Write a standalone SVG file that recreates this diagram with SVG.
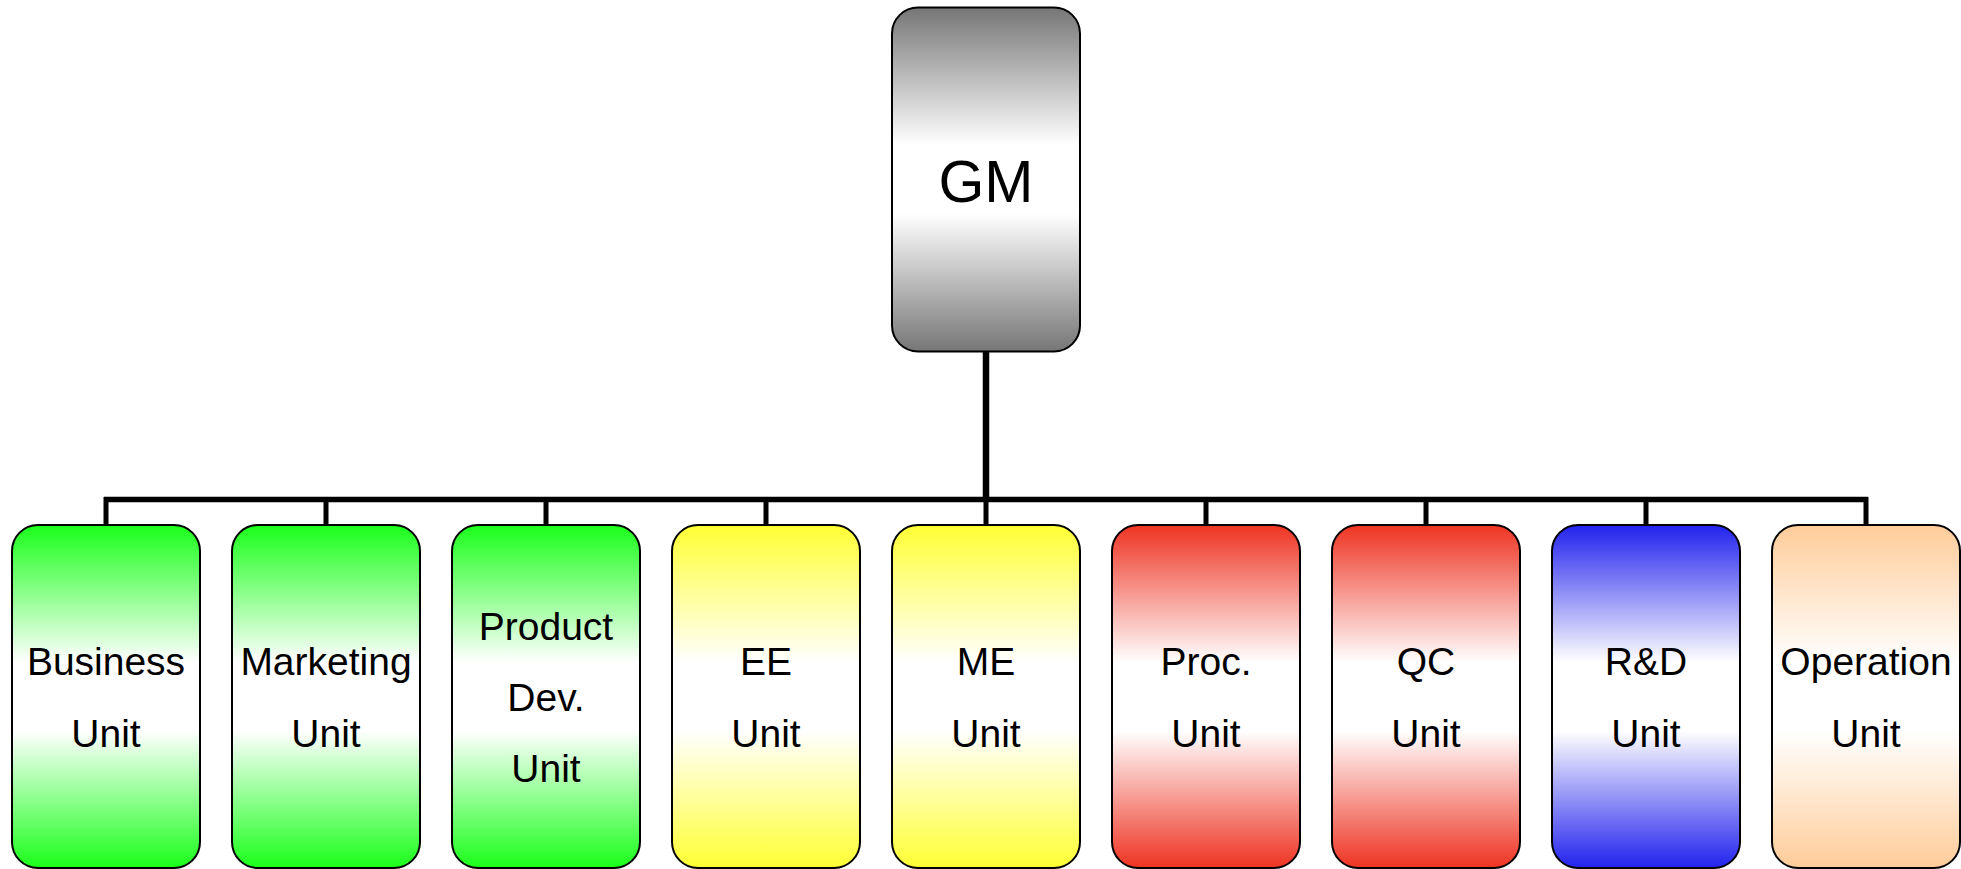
<svg xmlns="http://www.w3.org/2000/svg" width="1961" height="869" viewBox="0 0 1961 869">
<style>
.box{stroke:#000;stroke-width:2}
.lbl{font-family:"Liberation Sans",Arial,sans-serif;font-size:39px;fill:#000;text-anchor:middle}
.gm{font-family:"Liberation Sans",Arial,sans-serif;font-size:59px;fill:#000;text-anchor:middle}
.ln{stroke:#000;fill:none}
</style>
<defs>
<linearGradient id="gGray" x1="0" y1="0" x2="0" y2="1"><stop offset="0" stop-color="#767676"/><stop offset="0.4" stop-color="#fff"/><stop offset="0.6" stop-color="#fff"/><stop offset="1" stop-color="#767676"/></linearGradient>
<linearGradient id="gGreen" x1="0" y1="0" x2="0" y2="1"><stop offset="0" stop-color="#1aff1a"/><stop offset="0.4" stop-color="#fff"/><stop offset="0.6" stop-color="#fff"/><stop offset="1" stop-color="#1aff1a"/></linearGradient>
<linearGradient id="gYellow" x1="0" y1="0" x2="0" y2="1"><stop offset="0" stop-color="#ffff33"/><stop offset="0.4" stop-color="#fff"/><stop offset="0.6" stop-color="#fff"/><stop offset="1" stop-color="#ffff33"/></linearGradient>
<linearGradient id="gRed" x1="0" y1="0" x2="0" y2="1"><stop offset="0" stop-color="#ee3322"/><stop offset="0.4" stop-color="#fff"/><stop offset="0.6" stop-color="#fff"/><stop offset="1" stop-color="#ee3322"/></linearGradient>
<linearGradient id="gBlue" x1="0" y1="0" x2="0" y2="1"><stop offset="0" stop-color="#2222ee"/><stop offset="0.4" stop-color="#fff"/><stop offset="0.6" stop-color="#fff"/><stop offset="1" stop-color="#2222ee"/></linearGradient>
<linearGradient id="gOrange" x1="0" y1="0" x2="0" y2="1"><stop offset="0" stop-color="#ffcc99"/><stop offset="0.4" stop-color="#fff"/><stop offset="0.6" stop-color="#fff"/><stop offset="1" stop-color="#ffcc99"/></linearGradient>
</defs>
<g id="connectors">
<line class="ln" x1="986" y1="351" x2="986" y2="500" stroke-width="6.5"/>
<line class="ln" x1="104" y1="499.5" x2="1868" y2="499.5" stroke-width="5.5"/>
<line class="ln" x1="106" y1="497" x2="106" y2="525" stroke-width="5"/>
<line class="ln" x1="326" y1="497" x2="326" y2="525" stroke-width="5"/>
<line class="ln" x1="546" y1="497" x2="546" y2="525" stroke-width="5"/>
<line class="ln" x1="766" y1="497" x2="766" y2="525" stroke-width="5"/>
<line class="ln" x1="986" y1="497" x2="986" y2="525" stroke-width="5"/>
<line class="ln" x1="1206" y1="497" x2="1206" y2="525" stroke-width="5"/>
<line class="ln" x1="1426" y1="497" x2="1426" y2="525" stroke-width="5"/>
<line class="ln" x1="1646" y1="497" x2="1646" y2="525" stroke-width="5"/>
<line class="ln" x1="1866" y1="497" x2="1866" y2="525" stroke-width="5"/>
</g>
<g id="gm">
<rect class="box" x="892" y="7.5" width="188" height="344" rx="26" fill="url(#gGray)"/>
<text class="gm" x="986" y="202">GM</text>
</g>
<g id="business">
<rect class="box" x="12" y="525" width="188" height="343" rx="26" fill="url(#gGreen)"/>
<text class="lbl" x="106" y="675">Business</text><text class="lbl" x="106" y="747">Unit</text>
</g>
<g id="marketing">
<rect class="box" x="232" y="525" width="188" height="343" rx="26" fill="url(#gGreen)"/>
<text class="lbl" x="326" y="675">Marketing</text><text class="lbl" x="326" y="747">Unit</text>
</g>
<g id="productdev">
<rect class="box" x="452" y="525" width="188" height="343" rx="26" fill="url(#gGreen)"/>
<text class="lbl" x="546" y="640">Product</text><text class="lbl" x="546" y="711">Dev.</text><text class="lbl" x="546" y="782">Unit</text>
</g>
<g id="ee">
<rect class="box" x="672" y="525" width="188" height="343" rx="26" fill="url(#gYellow)"/>
<text class="lbl" x="766" y="675">EE</text><text class="lbl" x="766" y="747">Unit</text>
</g>
<g id="me">
<rect class="box" x="892" y="525" width="188" height="343" rx="26" fill="url(#gYellow)"/>
<text class="lbl" x="986" y="675">ME</text><text class="lbl" x="986" y="747">Unit</text>
</g>
<g id="proc">
<rect class="box" x="1112" y="525" width="188" height="343" rx="26" fill="url(#gRed)"/>
<text class="lbl" x="1206" y="675">Proc.</text><text class="lbl" x="1206" y="747">Unit</text>
</g>
<g id="qc">
<rect class="box" x="1332" y="525" width="188" height="343" rx="26" fill="url(#gRed)"/>
<text class="lbl" x="1426" y="675">QC</text><text class="lbl" x="1426" y="747">Unit</text>
</g>
<g id="rd">
<rect class="box" x="1552" y="525" width="188" height="343" rx="26" fill="url(#gBlue)"/>
<text class="lbl" x="1646" y="675">R&amp;D</text><text class="lbl" x="1646" y="747">Unit</text>
</g>
<g id="operation">
<rect class="box" x="1772" y="525" width="188" height="343" rx="26" fill="url(#gOrange)"/>
<text class="lbl" x="1866" y="675">Operation</text><text class="lbl" x="1866" y="747">Unit</text>
</g>
</svg>
